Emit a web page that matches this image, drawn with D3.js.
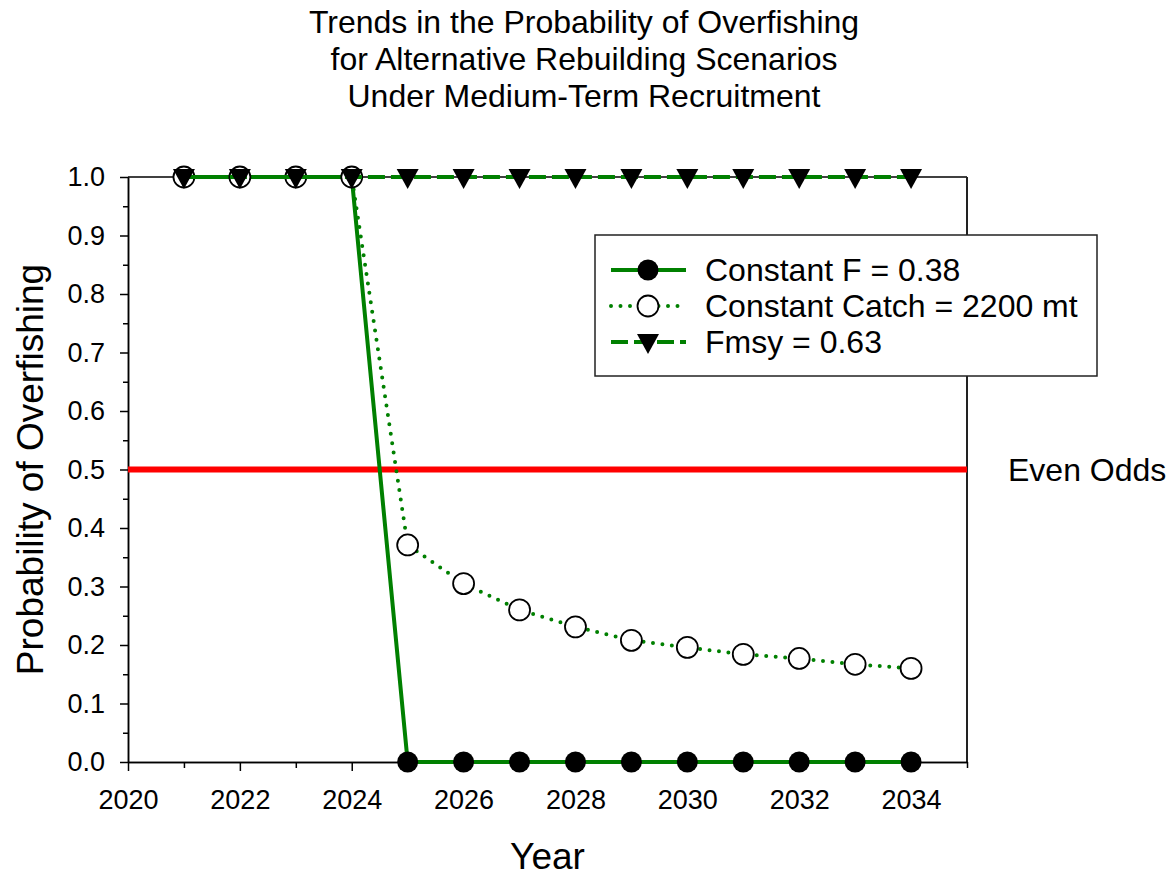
<!DOCTYPE html>
<html>
<head>
<meta charset="utf-8">
<script src="https://cdn.jsdelivr.net/npm/d3@7"></script>
<style>
  body { margin: 0; background: #fff; }
  text { font-family: "Liberation Sans", Arial, sans-serif; fill: #000; }
</style>
</head>
<body>
<div id="chart"></div>
<script>
// Data
let years = [2021, 2022, 2023, 2024, 2025, 2026, 2027, 2028, 2029, 2030, 2031, 2032, 2033, 2034];
let constantF = [1, 1, 1, 1, 0, 0, 0, 0, 0, 0, 0, 0, 0, 0];
let constantCatch = [1, 1, 1, 1, 0.371, 0.305, 0.260, 0.231, 0.208, 0.196, 0.184, 0.177, 0.167, 0.160];
let fmsy = [1, 1, 1, 1, 1, 1, 1, 1, 1, 1, 1, 1, 1, 1];
let seriesNames = ["Constant F = 0.38", "Constant Catch = 2200 mt", "Fmsy = 0.63"];
let titleLines = ["Trends in the Probability of Overfishing", "for Alternative Rebuilding Scenarios", "Under Medium-Term Recruitment"];
let xTicks = [2020, 2022, 2024, 2026, 2028, 2030, 2032, 2034];
let evenOdds = 0.5;

let width = 1176, height = 876;
let plot = {left: 128, right: 967, top: 177, bottom: 762};
let green = "#008000";

let svg = d3.select("#chart")
	.append("svg")
	.attr("width", width)
	.attr("height", height);

// Scales
let xScale = d3.scaleLinear()
	.domain([2020, 2035])
	.range([plot.left, plot.right]);

let yScale = d3.scaleLinear()
	.domain([0, 1])
	.range([plot.bottom, plot.top]);

// Title
svg.append("g")
	.selectAll("text")
	.data(titleLines)
	.enter()
	.append("text")
	.attr("x", 584)
	.attr("y", (d, i) => 33 + i * 37)
	.attr("text-anchor", "middle")
	.attr("font-size", "32px")
	.text(d => d);

// Frame (top and right)
svg.append("line")
	.attr("x1", plot.left).attr("x2", plot.right)
	.attr("y1", plot.top).attr("y2", plot.top)
	.attr("stroke", "#000").attr("stroke-width", 1.5);
svg.append("line")
	.attr("x1", plot.right).attr("x2", plot.right)
	.attr("y1", plot.top).attr("y2", plot.bottom)
	.attr("stroke", "#222").attr("stroke-width", 2);

// Y axis: major and minor ticks
let yAxis = d3.axisLeft(yScale)
	.tickValues(d3.range(0, 11).map(i => i / 10))
	.tickFormat(d3.format(".1f"))
	.tickSize(8)
	.tickSizeOuter(0)
	.tickPadding(15);

let yAxisGroup = svg.append("g")
	.attr("class", "axis y-axis")
	.attr("transform", "translate(" + plot.left + ",0)")
	.call(yAxis);

svg.append("g")
	.attr("transform", "translate(" + plot.left + ",0)")
	.call(d3.axisLeft(yScale)
		.tickValues(d3.range(0, 10).map(i => i / 10 + 0.05))
		.tickFormat("")
		.tickSize(5)
		.tickSizeOuter(0));

// X axis: major and minor ticks
let xAxis = d3.axisBottom(xScale)
	.tickValues(xTicks)
	.tickFormat(d3.format("d"))
	.tickSize(9)
	.tickSizeOuter(0)
	.tickPadding(19);

let xAxisGroup = svg.append("g")
	.attr("class", "axis x-axis")
	.attr("transform", "translate(0," + plot.bottom + ")")
	.call(xAxis);

svg.append("g")
	.attr("transform", "translate(0," + plot.bottom + ")")
	.call(d3.axisBottom(xScale)
		.tickValues(d3.range(2021, 2036, 2))
		.tickFormat("")
		.tickSize(6)
		.tickSizeOuter(0));

svg.selectAll(".domain, .tick line")
	.attr("stroke", "#000")
	.attr("stroke-width", 1.5);

svg.selectAll(".axis .tick text")
	.attr("font-size", "27px")
	.attr("font-family", "'Liberation Sans', Arial, sans-serif")
	.attr("fill", "#000");

// Axis titles
svg.append("text")
	.attr("x", (plot.left + plot.right) / 2)
	.attr("y", 869)
	.attr("text-anchor", "middle")
	.attr("font-size", "37px")
	.text("Year");

svg.append("text")
	.attr("transform", "translate(43," + ((plot.top + plot.bottom) / 2) + ") rotate(-90)")
	.attr("text-anchor", "middle")
	.attr("font-size", "37px")
	.text("Probability of Overfishing");

// Even odds reference line
svg.append("line")
	.attr("x1", xScale(2020)).attr("x2", xScale(2035))
	.attr("y1", yScale(evenOdds)).attr("y2", yScale(evenOdds))
	.attr("stroke", "#ff0000")
	.attr("stroke-width", 6);

svg.append("text")
	.attr("x", 1008)
	.attr("y", yScale(evenOdds) + 11)
	.attr("font-size", "32px")
	.text("Even Odds");

// Series
let triangle = "M-11,-8L11,-8L0,12Z";

let series = [
	{name: seriesNames[0], values: constantF, dash: null, cap: "butt", marker: "dot"},
	{name: seriesNames[1], values: constantCatch, dash: "0,9.5", cap: "round", marker: "open"},
	{name: seriesNames[2], values: fmsy, dash: "17,6", cap: "butt", marker: "tri"}
];

let lineGen = d3.line()
	.x(d => xScale(d.year))
	.y(d => yScale(d.value));

function drawMarker(sel, type) {
	if (type === "tri") {
		sel.append("path")
			.attr("d", triangle)
			.attr("fill", "#000");
	} else {
		sel.append("circle")
			.attr("r", 10.5)
			.attr("fill", type === "dot" ? "#000" : "#fff")
			.attr("stroke", "#000")
			.attr("stroke-width", type === "dot" ? 0 : 1.8);
	}
}

series.forEach(s => {
	let pts = years.map((y, i) => ({year: y, value: s.values[i]}));

	svg.append("path")
		.datum(pts)
		.attr("d", lineGen)
		.attr("fill", "none")
		.attr("stroke", green)
		.attr("stroke-width", 4)
		.attr("stroke-linecap", s.cap)
		.attr("stroke-dasharray", s.dash);

	svg.append("g")
		.selectAll("g")
		.data(pts)
		.enter()
		.append("g")
		.attr("transform", d => "translate(" + xScale(d.year) + "," + yScale(d.value) + ")")
		.each(function() { drawMarker(d3.select(this), s.marker); });
});

// Legend
let legend = svg.append("g");

legend.append("rect")
	.attr("x", 595).attr("y", 235)
	.attr("width", 502).attr("height", 141)
	.attr("fill", "#fff")
	.attr("stroke", "#222")
	.attr("stroke-width", 1.5);

series.forEach((s, i) => {
	let cy = 270 + i * 36;
	legend.append("line")
		.attr("x1", 611).attr("x2", 686)
		.attr("y1", cy).attr("y2", cy)
		.attr("stroke", green)
		.attr("stroke-width", 4)
		.attr("stroke-linecap", s.cap)
		.attr("stroke-dasharray", s.dash);
	let m = legend.append("g")
		.attr("transform", "translate(648," + cy + ")");
	drawMarker(m, s.marker);
	legend.append("text")
		.attr("x", 705)
		.attr("y", cy + 11)
		.attr("font-size", "32px")
		.text(s.name);
});
</script>
</body>
</html>
